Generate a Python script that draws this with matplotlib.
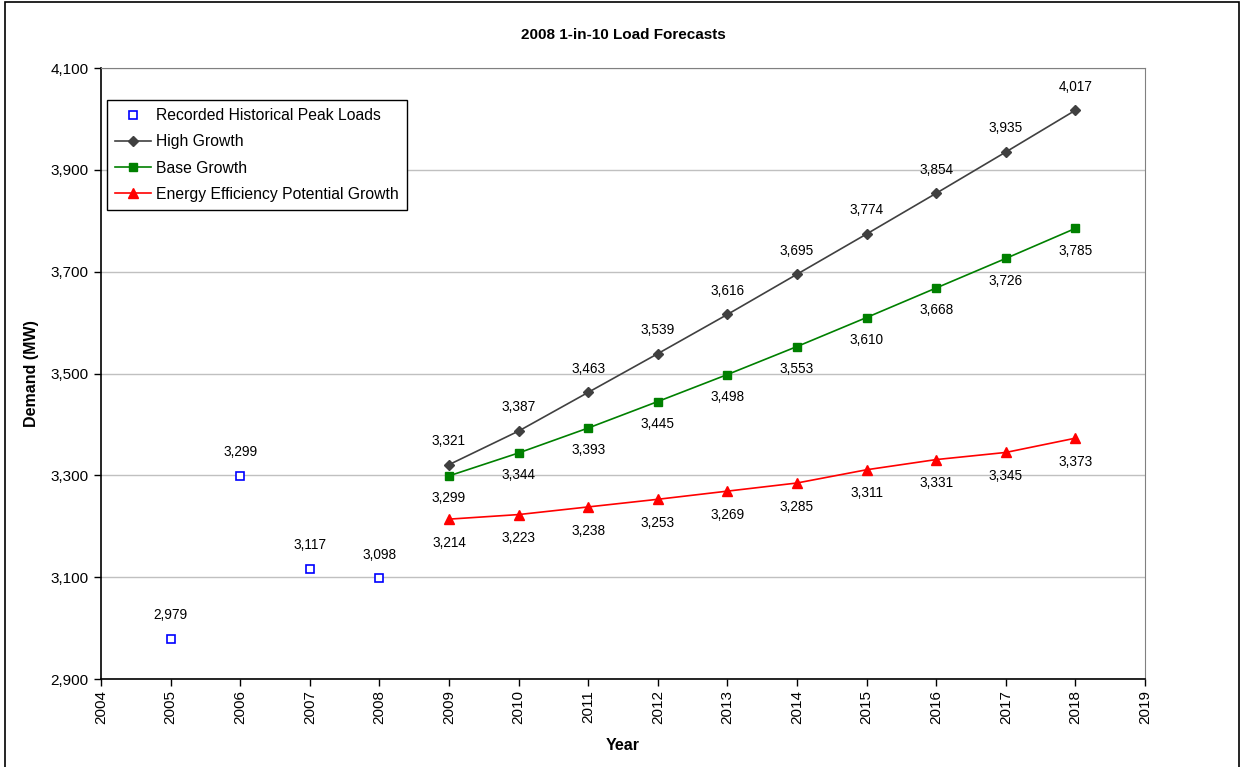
import matplotlib
matplotlib.use("Agg")
import matplotlib.pyplot as plt
import numpy as np
from matplotlib.ticker import FuncFormatter, MultipleLocator
from matplotlib.patches import Rectangle

plt.rcParams['font.family'] = ['Liberation Sans', 'DejaVu Sans']

hist_years = [2005, 2006, 2007, 2008]
hist_vals = [2979, 3299, 3117, 3098]
fc_years = [2009, 2010, 2011, 2012, 2013, 2014, 2015, 2016, 2017, 2018]
high_vals = [3321, 3387, 3463, 3539, 3616, 3695, 3774, 3854, 3935, 4017]
base_vals = [3299, 3344, 3393, 3445, 3498, 3553, 3610, 3668, 3726, 3785]
ee_vals = [3214, 3223, 3238, 3253, 3269, 3285, 3311, 3331, 3345, 3373]

fig = plt.figure(figsize=(12.41, 7.67), dpi=100)
fig.patches.append(Rectangle((0.004, -0.01), 0.994, 1.007, transform=fig.transFigure,
                             fill=False, edgecolor='black', linewidth=1.2))
ax = fig.add_axes([0.0814, 0.1147, 0.8412, 0.7966])

ax.plot(hist_years, hist_vals, linestyle='none', marker='s', markersize=5.5,
        markerfacecolor='white', markeredgecolor='#0000ff', markeredgewidth=1.2,
        label='Recorded Historical Peak Loads', zorder=4)
ax.plot(fc_years, high_vals, color='#404040', linewidth=1.2, marker='D', markersize=5,
        label='High Growth', zorder=3)
ax.plot(fc_years, base_vals, color='#008000', linewidth=1.2, marker='s', markersize=5.5,
        label='Base Growth', zorder=3)
ax.plot(fc_years, ee_vals, color='#ff0000', linewidth=1.2, marker='^', markersize=7,
        label='Energy Efficiency Potential Growth', zorder=3)

def fmt(v):
    return f"{v:,}"

for x, y in zip(hist_years, hist_vals):
    ax.annotate(fmt(y), (x, y), xytext=(0, 17), textcoords='offset points',
                ha='center', va='center', fontsize=9.8)
for x, y in zip(fc_years, high_vals):
    ax.annotate(fmt(y), (x, y), xytext=(0, 17), textcoords='offset points',
                ha='center', va='center', fontsize=9.8)
for x, y in zip(fc_years, base_vals):
    ax.annotate(fmt(y), (x, y), xytext=(0, -16), textcoords='offset points',
                ha='center', va='center', fontsize=9.8)
for x, y in zip(fc_years, ee_vals):
    ax.annotate(fmt(y), (x, y), xytext=(0, -17), textcoords='offset points',
                ha='center', va='center', fontsize=9.8)

ax.set_xlim(2004, 2019)
ax.set_ylim(2900, 4100)
ax.xaxis.set_major_locator(MultipleLocator(1))
ax.set_yticks(np.arange(2900, 4101, 200))
ax.yaxis.set_major_formatter(FuncFormatter(lambda v, p: f"{int(v):,}"))
ax.xaxis.set_major_formatter(FuncFormatter(lambda v, p: f"{int(v)}"))
plt.setp(ax.get_xticklabels(), rotation=90)
ax.tick_params(axis='both', direction='out', length=5, width=1, labelsize=11, color='black')
ax.tick_params(axis='x', pad=3)
ax.tick_params(axis='y', pad=4)
ax.grid(axis='y', color='#c0c0c0', linewidth=1)
ax.set_axisbelow(True)
for s in ['top', 'right']:
    ax.spines[s].set_color('#808080')
for s in ['left', 'bottom']:
    ax.spines[s].set_color('black')
    ax.spines[s].set_linewidth(1.2)

ax.set_title('2008 1-in-10 Load Forecasts', fontsize=11, fontweight='bold', pad=21)
ax.set_xlabel('Year', fontsize=11.5, fontweight='bold', labelpad=10)
ax.set_ylabel('Demand (MW)', fontsize=11.5, fontweight='bold', labelpad=8)

leg = ax.legend(loc='upper left', bbox_to_anchor=(0.004, 0.95), borderaxespad=0.1,
                fontsize=11.3, frameon=True, fancybox=False, edgecolor='black', framealpha=1,
                borderpad=0.5, labelspacing=0.72, handlelength=2.3, handletextpad=0.35)
leg.get_frame().set_linewidth(1.0)

fig.savefig('out.png', dpi=100)
